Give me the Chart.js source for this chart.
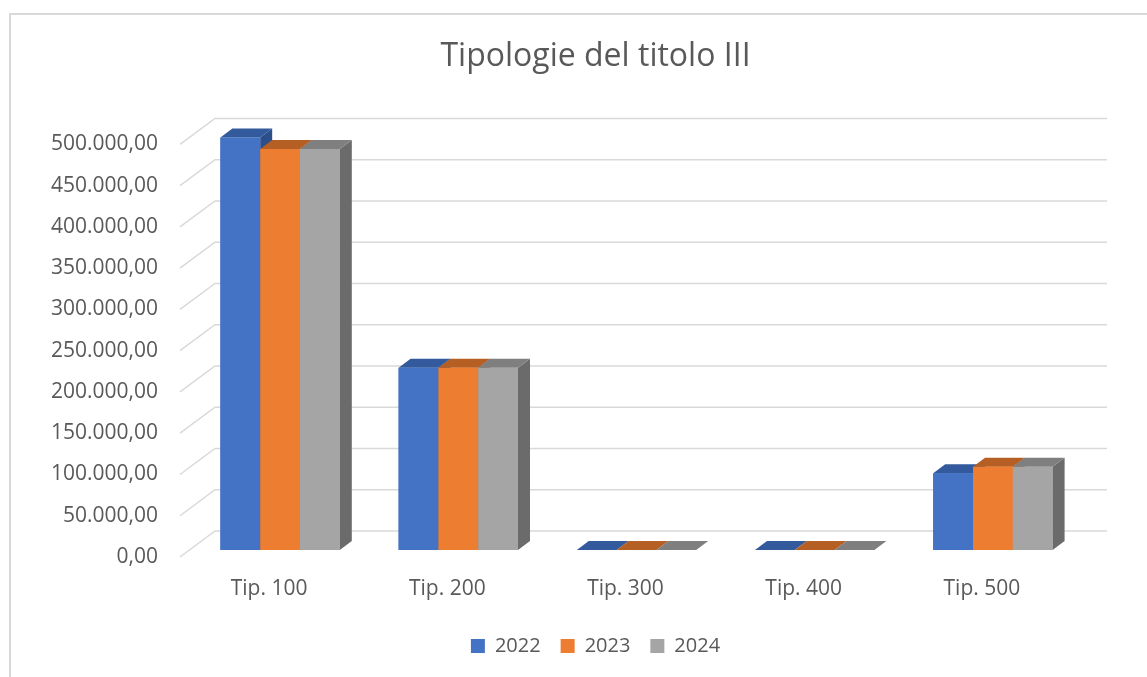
<!DOCTYPE html>
<html lang="it">
<head>
    <meta charset="UTF-8">
    <title>Tipologie del titolo III</title>
    <script src="https://cdn.jsdelivr.net/npm/chart.js"></script>
    <style>
        html, body { margin: 0; padding: 0; background: #fff; overflow: hidden; }
        .frame { position: absolute; left: 9px; top: 13px; width: 1200px; height: 700px; border: 2px solid #d9d9d9; }
        .wrap { position: absolute; left: 0; top: 0; width: 1147px; height: 677px; }
    </style>
</head>
<body>
    <div class="frame"></div>
    <div class="wrap"><canvas id="chart"></canvas></div>

    <script>
        // dati
        const categories = ['Tip. 100', 'Tip. 200', 'Tip. 300', 'Tip. 400', 'Tip. 500'];
        const years = ['2022', '2023', '2024'];
        const values2022 = [500000, 221000, 0, 0, 93000];
        const values2023 = [486000, 221000, 0, 0, 101000];
        const values2024 = [486000, 221000, 0, 0, 101000];
        const yTicks = [0, 50000, 100000, 150000, 200000, 250000, 300000, 350000, 400000, 450000, 500000];

        const frontColors = ['#4472c4', '#ed7d31', '#a5a5a5'];
        const topColors = ['#335a9c', '#b65f24', '#7f7f7f'];
        const sideColors = ['#2c4e89', '#a3541f', '#6b6b6b'];
        const textColor = '#595959';
        const gridColor = '#d9d9d9';

        // profondita' della prospettiva
        const depthX = 12, depthY = 9;

        function formatIt(v) {
            const s = Math.round(v).toString().replace(/\B(?=(\d{3})+(?!\d))/g, '.');
            return s + ',00';
        }

        // griglia sulla parete di fondo con i raccordi obliqui a sinistra
        const backWall = {
            id: 'backWall',
            beforeDatasetsDraw(chart) {
                const { ctx, chartArea, scales } = chart;
                ctx.save();
                ctx.strokeStyle = gridColor;
                ctx.lineWidth = 1.5;
                yTicks.forEach(v => {
                    const y = scales.y.getPixelForValue(v);
                    ctx.beginPath();
                    ctx.moveTo(chartArea.left - 11, y + 7);
                    ctx.lineTo(chartArea.left + 24, y - 19);
                    ctx.lineTo(chartArea.right + 25, y - 19);
                    ctx.stroke();
                });
                ctx.restore();
            }
        };

        // facce superiori e laterali delle colonne
        const bars3d = {
            id: 'bars3d',
            afterDatasetsDraw(chart) {
                const ctx = chart.ctx;
                ctx.save();
                categories.forEach((c, i) => {
                    chart.data.datasets.forEach((ds, d) => {
                        const bar = chart.getDatasetMeta(d).data[i];
                        const p = bar.getProps(['x', 'y', 'base', 'width'], true);
                        const l = p.x - p.width / 2, r = p.x + p.width / 2;
                        const t = p.y, b = p.base;
                        // lato destro
                        ctx.fillStyle = sideColors[d];
                        ctx.beginPath();
                        ctx.moveTo(r, t);
                        ctx.lineTo(r + depthX, t - depthY);
                        ctx.lineTo(r + depthX, b - depthY);
                        ctx.lineTo(r, b);
                        ctx.closePath();
                        ctx.fill();
                        // faccia superiore
                        ctx.fillStyle = topColors[d];
                        ctx.beginPath();
                        ctx.moveTo(l, t);
                        ctx.lineTo(l + depthX, t - depthY);
                        ctx.lineTo(r + depthX, t - depthY);
                        ctx.lineTo(r, t);
                        ctx.closePath();
                        ctx.fill();
                        bar.draw(ctx);
                    });
                });
                ctx.restore();
            }
        };

        new Chart(document.getElementById('chart'), {
            type: 'bar',
            data: {
                labels: categories,
                datasets: [
                    { label: years[0], data: values2022, backgroundColor: frontColors[0] },
                    { label: years[1], data: values2023, backgroundColor: frontColors[1] },
                    { label: years[2], data: values2024, backgroundColor: frontColors[2] }
                ]
            },
            options: {
                responsive: true,
                maintainAspectRatio: false,
                animation: false,
                datasets: { bar: { categoryPercentage: 0.67, barPercentage: 1.0, borderWidth: 0 } },
                layout: { padding: { left: 44, right: 0, top: 0, bottom: 11 } },
                scales: {
                    x: {
                        grid: { display: false, drawTicks: false },
                        border: { display: false },
                        ticks: { color: textColor, font: { family: 'Open Sans', size: 21 }, padding: 26, labelOffset: -11 },
                        afterFit(s) { s.height = 66; }
                    },
                    y: {
                        min: 0,
                        max: 500000,
                        grid: { display: false, drawTicks: false },
                        border: { display: false },
                        ticks: {
                            stepSize: 50000,
                            color: textColor,
                            font: { family: 'Open Sans', size: 21 },
                            padding: 33,
                            labelOffset: 7,
                            callback: v => formatIt(v)
                        },
                        afterFit(s) { s.width = 147; }
                    },
                    y2: {
                        position: 'right',
                        grid: { display: false },
                        border: { display: false },
                        ticks: { display: false },
                        afterFit(s) { s.width = 65; }
                    }
                },
                plugins: {
                    title: {
                        display: true,
                        text: 'Tipologie del titolo III',
                        color: textColor,
                        font: { family: 'Open Sans', size: 32, weight: 'normal' },
                        padding: { top: 38, bottom: 61 }
                    },
                    legend: {
                        position: 'bottom',
                        labels: {
                            color: textColor,
                            font: { family: 'Open Sans', size: 20 },
                            boxWidth: 14,
                            boxHeight: 14,
                            padding: 20
                        }
                    },
                    tooltip: { enabled: false }
                }
            },
            plugins: [backWall, bars3d]
        });
    </script>
</body>
</html>
